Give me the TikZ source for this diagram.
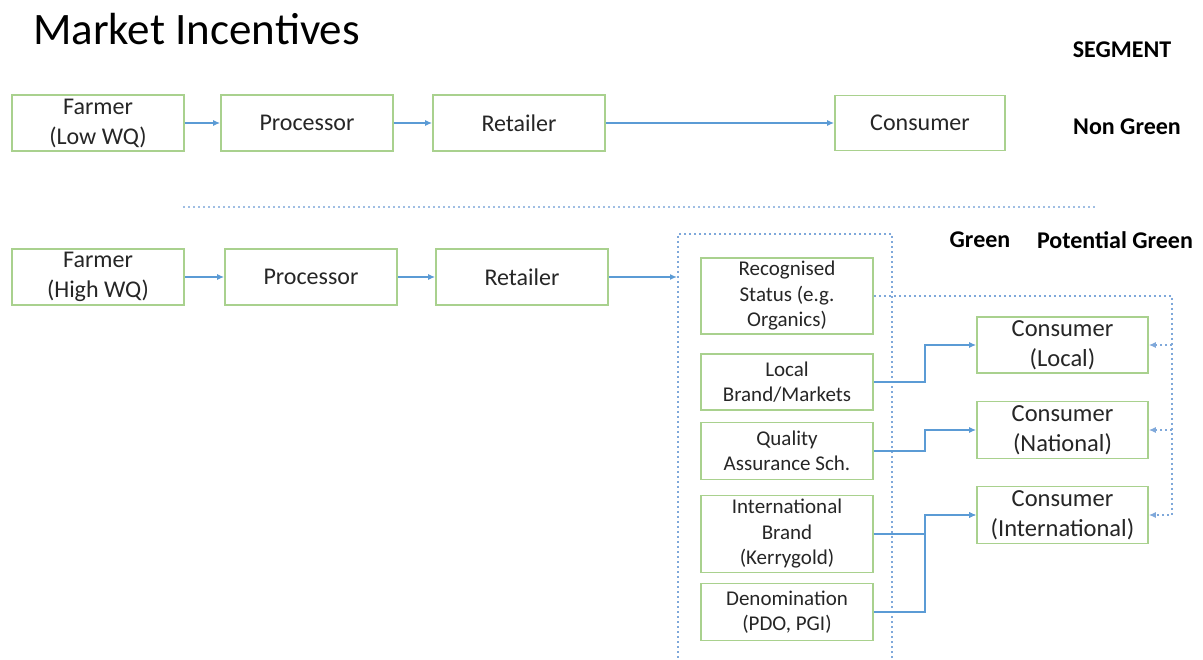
\documentclass[tikz,border=0pt]{standalone}
\usepackage{fontspec}
\setmainfont{Carlito}
\usetikzlibrary{arrows.meta}
\definecolor{boxgreen}{HTML}{A9D18E}
\definecolor{arrblue}{HTML}{5B9BD5}
\definecolor{dotblue}{HTML}{7FA8DA}
\definecolor{txt}{HTML}{262626}
\tikzset{
  box/.style={draw=boxgreen, line width=1.6pt, fill=white, align=center, text=txt,
    font=\fontsize{24}{30}\selectfont, inner sep=0pt},
  sbox/.style={box, font=\fontsize{21}{25.5}\selectfont},
  cbox/.style={box, font=\fontsize{24.5}{30}\selectfont},
  arr/.style={draw=arrblue, line width=1.4pt, -{Latex[length=7pt,width=6pt]}},
  dotl/.style={draw=dotblue, line width=2pt, dash pattern=on 2pt off 3pt},
  pot/.style={dotl, -{Latex[length=7pt,width=6pt]}},
  seg/.style={font=\bfseries\fontsize{24}{28}\selectfont, text=black, inner sep=0pt},
}
\begin{document}
\begin{tikzpicture}[x=1pt,y=-1pt]
\useasboundingbox (0,0) rectangle (1203,660);
\fill[white] (0,0) rectangle (1203,660);

\node[anchor=base west, font=\fontsize{45}{50}\selectfont, text=black, inner sep=0pt] (title) at (33,45) {Market Incentives};
\node[seg] (segment) at (1122,50) {SEGMENT};
\node[seg] (nongreen) at (1127,127) {Non Green};
\node[seg] (green) at (980,240) {Green};
\node[seg] (potgreen) at (1115,240) {Potential Green};

% top row
\node[box, minimum width=172pt, minimum height=56pt] (f1) at (98,123) {Farmer\\(Low WQ)};
\node[box, minimum width=172pt, minimum height=56pt] (p1) at (307,123) {Processor};
\node[box, minimum width=172pt, minimum height=56pt] (r1) at (519,123) {Retailer};
\node[box, minimum width=170pt, minimum height=55pt] (c1) at (920,123) {Consumer};
\draw[arr] (f1) -- (p1);
\draw[arr] (p1) -- (r1);
\draw[arr] (r1) -- (c1);

% separator
\coordinate (sepL) at (183,207);
\coordinate (sepR) at (1095,207);
\draw[dotl, draw=dotblue!75] (sepL) -- (sepR);

% bottom row
\node[box, minimum width=172pt, minimum height=56pt] (f2) at (98,277) {Farmer\\(High WQ)};
\node[box, minimum width=172pt, minimum height=56pt] (p2) at (311,277) {Processor};
\node[box, minimum width=172pt, minimum height=56pt] (r2) at (522,277) {Retailer};
\draw[arr] (f2) -- (p2);
\draw[arr] (p2) -- (r2);

% dotted group box
\node[dotl, minimum width=214pt, minimum height=440pt, inner sep=0pt, anchor=north west] (grp) at (677,233) {};
\draw[arr] (r2.east) -- (r2.east -| grp.west);

% green column
\node[sbox, minimum width=172pt, minimum height=76pt] (rec) at (787,296) {Recognised\\Status (e.g.\\Organics)};
\node[sbox, minimum width=172pt, minimum height=56pt] (loc) at (787,382) {Local\\Brand/Markets};
\node[sbox, minimum width=172pt, minimum height=57pt] (qas) at (787,451) {Quality\\Assurance Sch.};
\node[sbox, minimum width=172pt, minimum height=77pt] (ib) at (787,534) {International\\Brand\\(Kerrygold)};
\node[sbox, minimum width=172pt, minimum height=57pt] (den) at (787,612) {Denomination\\(PDO, PGI)};

% consumers
\node[cbox, minimum width=171pt, minimum height=56pt] (cl) at (1062.5,345) {Consumer\\(Local)};
\node[cbox, minimum width=171pt, minimum height=57pt] (cn) at (1062.5,430) {Consumer\\(National)};
\node[cbox, minimum width=171pt, minimum height=57pt] (ci) at (1062.5,515) {Consumer\\(International)};

\coordinate (jx) at (925,0);
\draw[arr] (loc.east) -- (loc.east -| jx) |- (cl.west);
\draw[arr] (qas.east) -- (qas.east -| jx) |- (cn.west);
\draw[arr] (ib.east) -- (ib.east -| jx) |- (ci.west);
\draw[arr] (den.east) -- (den.east -| jx) |- (ci.west);

% potential green dotted connectors
\coordinate (px) at (1172,0);
\draw[pot] (rec.east) -- (rec.east -| px) |- (ci.east);
\draw[pot] (cl.east -| px) -- (cl.east);
\draw[pot] (cn.east -| px) -- (cn.east);
\end{tikzpicture}
\end{document}
